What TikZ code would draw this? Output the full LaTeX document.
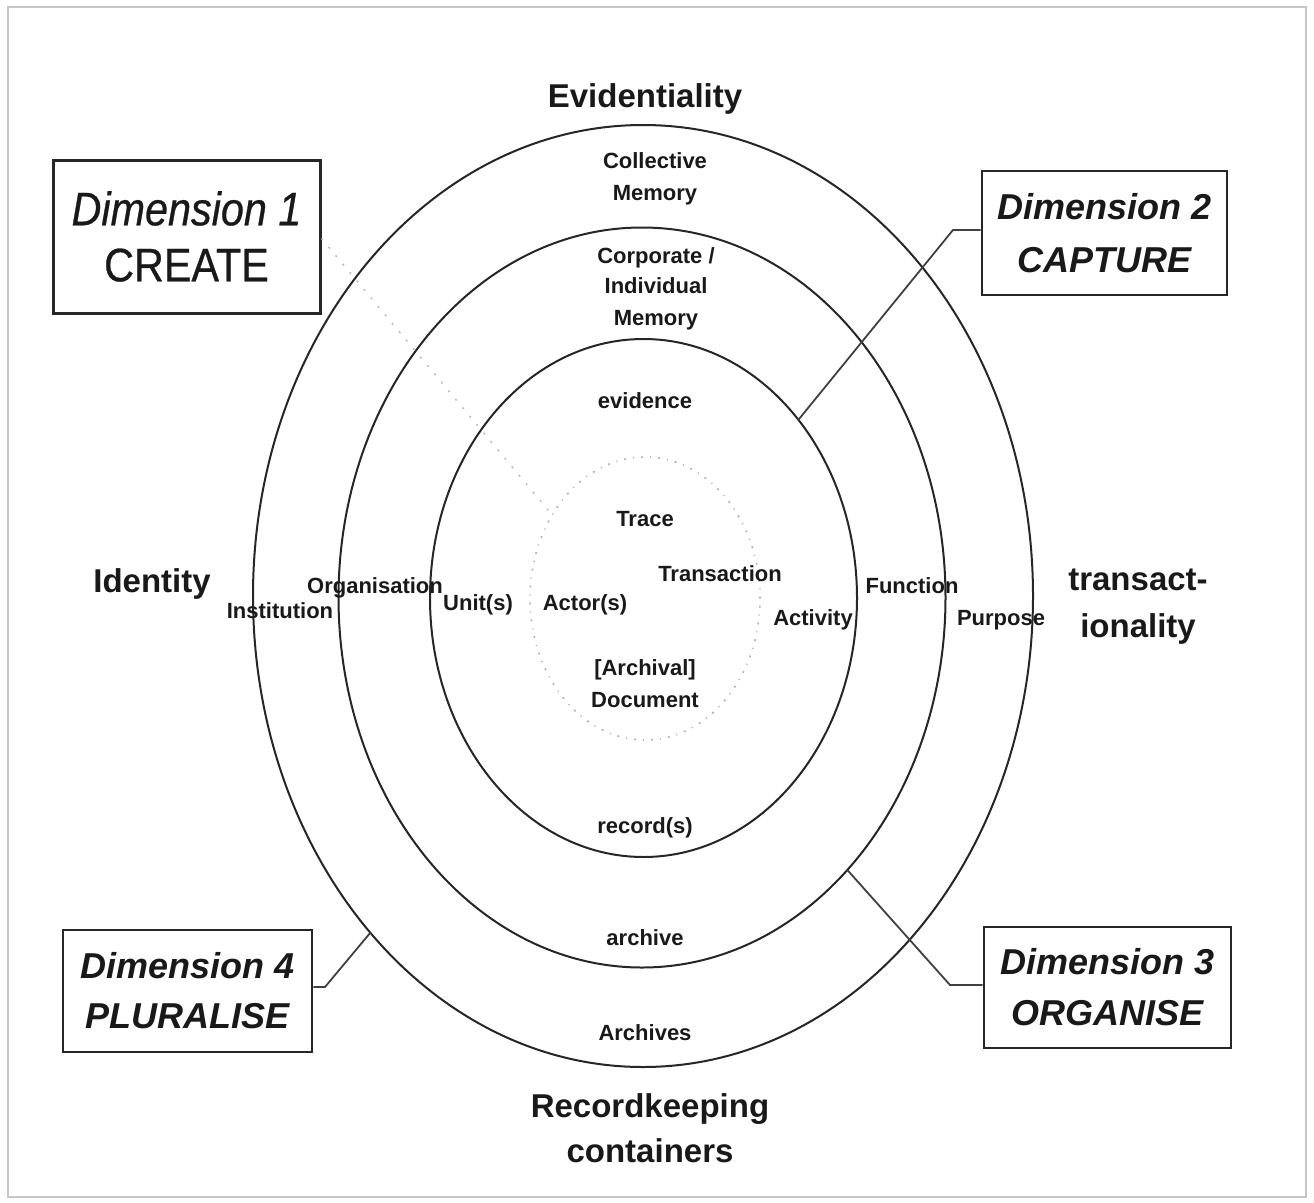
\documentclass[tikz,border=0pt]{standalone}
\usepackage{fontspec}
\setmainfont{Liberation Sans}
\newfontfamily\narrowfont[FakeStretch=0.88,FakeBold=0.6]{Liberation Sans}
\usetikzlibrary{shapes.geometric}
\tikzset{
  ring/.style={ellipse, draw=black!85, line width=2pt, inner sep=0pt, outer sep=0pt},
  corering/.style={ellipse, draw=black!30, line width=1.6pt, dash pattern=on 2pt off 7pt on 1pt off 7pt, inner sep=0pt, outer sep=0pt},
  lbl/.style={font=\bfseries\fontsize{22}{26}\selectfont, anchor=base, inner sep=0pt, text=black!90},
  biglbl/.style={font=\bfseries\fontsize{33}{40}\selectfont, anchor=base, inner sep=0pt, text=black!90},
  dimbox/.style={draw=black!85, line width=2.8pt, align=center, inner sep=0pt, text=black!90},
  link/.style={draw=black!75, line width=1.8pt},
  faintlink/.style={draw=black!25, line width=1.6pt, dash pattern=on 2pt off 9pt}
}
\begin{document}
\begin{tikzpicture}[x=1pt,y=-1pt]
\useasboundingbox (0,0) rectangle (1314,1202);
\draw[black!22, line width=2pt] (8,7) rectangle (1306,1197);

% rings
\node[ring, minimum width=780pt, minimum height=942pt] (outer) at (643,596) {};
\node[ring, minimum width=607pt, minimum height=740pt] (middle) at (642,597.5) {};
\node[ring, minimum width=427pt, minimum height=518pt] (inner) at (643.5,598) {};
\node[corering, minimum width=230pt, minimum height=283pt] (core) at (645,598.5) {};

% outer labels
\node[biglbl] (evid) at (645,107) {Evidentiality};
\node[biglbl] (ident) at (152,592) {Identity};
\node[biglbl] (trans1) at (1138,590) {transact-};
\node[biglbl] (trans2) at (1138,637) {ionality};
\node[biglbl] (rk1) at (650,1117) {Recordkeeping};
\node[biglbl] (rk2) at (650,1162) {containers};

% ring labels
\node[lbl] (coll1) at (655,168) {Collective};
\node[lbl] (coll2) at (655,200) {Memory};
\node[lbl] (corp1) at (656,263) {Corporate /};
\node[lbl] (corp2) at (656,293) {Individual};
\node[lbl] (corp3) at (656,325) {Memory};
\node[lbl] (evidence) at (645,408) {evidence};
\node[lbl] (trace) at (645,526) {Trace};
\node[lbl] (transaction) at (720,581) {Transaction};
\node[lbl] (actor) at (585,610) {Actor(s)};
\node[lbl] (unit) at (478,610) {Unit(s)};
\node[lbl] (org) at (375,593) {Organisation};
\node[lbl] (inst) at (280,618) {Institution};
\node[lbl] (activity) at (813,625) {Activity};
\node[lbl] (function) at (912,593) {Function};
\node[lbl] (purpose) at (1001,625) {Purpose};
\node[lbl] (arch1) at (645,675) {[Archival]};
\node[lbl] (arch2) at (645,707) {Document};
\node[lbl] (records) at (645,833) {record(s)};
\node[lbl] (archive) at (645,945) {archive};
\node[lbl] (archives) at (645,1040) {Archives};

% dimension boxes
\node[dimbox, minimum width=267pt, minimum height=153pt, line width=3pt, font=\narrowfont\fontsize{47}{56}\selectfont] (d1) at (186.5,236.5) {\textit{Dimension 1}\\CREATE};
\node[dimbox, minimum width=245pt, minimum height=124pt, font=\bfseries\itshape\fontsize{36}{53}\selectfont] (d2) at (1104.5,233) {Dimension 2\\CAPTURE};
\node[dimbox, minimum width=247pt, minimum height=121pt, font=\bfseries\itshape\fontsize{36}{51}\selectfont] (d3) at (1107.5,987.5) {Dimension 3\\ORGANISE};
\node[dimbox, minimum width=249pt, minimum height=122pt, font=\bfseries\itshape\fontsize{36}{50}\selectfont] (d4) at (187.5,991) {Dimension 4\\PLURALISE};

% connectors
\coordinate (k2) at (953,230);
\coordinate (k3) at (950,985);
\coordinate (k4) at (325,987);
\draw[faintlink] ([yshift=-2pt]d1.east) -- (core.138);
\draw[link] ([yshift=3pt]d2.west) -- (k2) -- (inner.49);
\draw[link] ([yshift=2.5pt]d3.west) -- (k3) -- (middle.-53);
\draw[link] ([yshift=4pt]d4.east) -- (k4) -- (outer.231);
\end{tikzpicture}
\end{document}
